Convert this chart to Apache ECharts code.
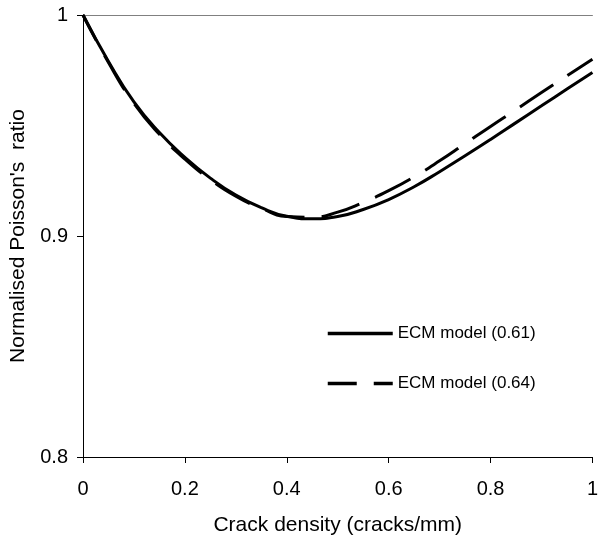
<!DOCTYPE html>
<html>
<head>
<meta charset="utf-8">
<script src="https://cdn.jsdelivr.net/npm/echarts@6/dist/echarts.min.js"></script>
<style>
  html, body { margin: 0; padding: 0; background: #fff; }
  #chart { width: 601px; height: 542px; }
</style>
</head>
<body>
<div id="chart"></div>
<script>
// crack density (cracks/mm)
const crackDensity = [0, 0.05, 0.1, 0.15, 0.2, 0.25, 0.3, 0.35, 0.4, 0.45, 0.5,
    0.55, 0.6, 0.65, 0.7, 0.75, 0.8, 0.85, 0.9, 0.95, 1.0];
// normalised Poisson's ratio
const ecm061 = [1.0, 0.979, 0.9607, 0.9468, 0.9356, 0.9262, 0.9185, 0.9128, 0.9089, 0.9078, 0.9088,
    0.912, 0.9165, 0.9223, 0.9291, 0.9363, 0.9437, 0.9513, 0.9589, 0.9665, 0.974];
const ecm064 = [1.0, 0.9785, 0.960, 0.946, 0.9348, 0.9255, 0.918, 0.9125, 0.9088, 0.9085, 0.9108,
    0.9152, 0.9205, 0.9268, 0.934, 0.9418, 0.9496, 0.9572, 0.9649, 0.9725, 0.980];
const seriesNames = ['ECM model (0.61)', 'ECM model (0.64)'];

const font = 'Liberation Sans, Arial, sans-serif';

function pairs(xs, ys) {
    return xs.map(function(x, i) { return [x, ys[i]]; });
}

const option = {
    backgroundColor: '#fff',
    animation: false,
    grid: { left: 83, right: 4, top: 15, bottom: 85 },
    legend: {
        left: 326,
        top: 325,
        padding: 0,
        orient: 'vertical',
        itemWidth: 65,
        itemHeight: 17,
        itemGap: 33,
        itemStyle: { opacity: 0 },
        lineStyle: { width: 3.5 },
        textStyle: { fontFamily: font, fontSize: 17, color: '#000', padding: [0, 0, 0, 0] },
        data: seriesNames
    },
    xAxis: [{
        type: 'value',
        min: 0,
        max: 1,
        interval: 0.2,
        name: 'Crack density (cracks/mm)',
        nameLocation: 'middle',
        nameGap: 58,
        nameTextStyle: { fontFamily: font, fontSize: 21, color: '#000' },
        axisLine: { show: true, lineStyle: { color: '#000', width: 1 } },
        axisTick: { show: true, inside: false, length: 6, lineStyle: { color: '#000' } },
        axisLabel: { fontFamily: font, fontSize: 20, color: '#000', margin: 22 },
        splitLine: { show: false }
    }, {
        type: 'value',
        position: 'top',
        min: 0,
        max: 1,
        axisLine: { show: true, lineStyle: { color: '#808080', width: 1 } },
        axisTick: { show: false },
        axisLabel: { show: false },
        splitLine: { show: false }
    }],
    yAxis: [{
        type: 'value',
        min: 0.8,
        max: 1,
        interval: 0.1,
        name: "Normalised Poisson's  ratio",
        nameLocation: 'middle',
        nameGap: 54,
        nameTextStyle: { fontFamily: font, fontSize: 21, color: '#000' },
        axisLine: { show: true, lineStyle: { color: '#000', width: 1 } },
        axisTick: { show: true, inside: false, length: 6, lineStyle: { color: '#000' } },
        axisLabel: { fontFamily: font, fontSize: 20, color: '#000', margin: 15 },
        splitLine: { show: false }
    }, {
        type: 'value',
        position: 'right',
        min: 0.8,
        max: 1,
        axisLine: { show: true, lineStyle: { color: '#000', width: 1 } },
        axisTick: { show: false },
        axisLabel: { show: false },
        splitLine: { show: false }
    }],
    series: [{
        name: seriesNames[1],
        type: 'line',
        smooth: true,
        symbol: 'none',
        lineStyle: { color: '#000', width: 3, type: [40, 17], dashOffset: 11 },
        itemStyle: { color: '#000' },
        data: pairs(crackDensity, ecm064)
    }, {
        name: seriesNames[0],
        type: 'line',
        smooth: true,
        symbol: 'none',
        lineStyle: { color: '#000', width: 3, type: 'solid' },
        itemStyle: { color: '#000' },
        data: pairs(crackDensity, ecm061)
    }]
};

const chart = echarts.init(document.getElementById('chart'), null, { renderer: 'canvas' });
chart.setOption(option);
</script>
</body>
</html>
